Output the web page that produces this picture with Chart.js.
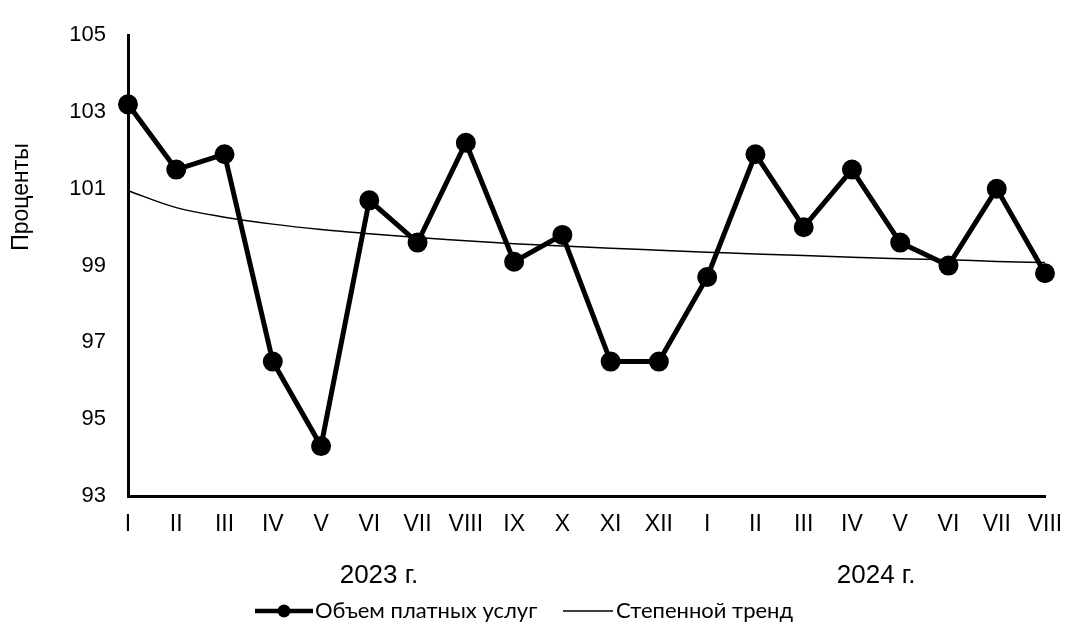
<!DOCTYPE html>
<html>
<head>
<meta charset="utf-8">
<script src="https://cdn.jsdelivr.net/npm/chart.js@4"></script>
<style>
  html, body { margin: 0; padding: 0; background: #fff; }
  #wrap { width: 1065px; height: 634px; }
</style>
</head>
<body>
<div id="wrap"><canvas id="chart"></canvas></div>
<script>
// DATA
let months = ["I", "II", "III", "IV", "V", "VI", "VII", "VIII", "IX", "X", "XI", "XII",
    "I", "II", "III", "IV", "V", "VI", "VII", "VIII"];
let years = ["2023 г.", "2024 г."];
let paidServices = [103.2, 101.5, 101.9, 96.5, 94.3, 100.7, 99.6, 102.2, 99.1, 99.8, 96.5, 96.5,
    98.7, 101.9, 100.0, 101.5, 99.6, 99.0, 101.0, 98.8];
let powerTrend = [100.95, 100.51, 100.26, 100.08, 99.94, 99.83, 99.73, 99.65, 99.57, 99.51,
    99.45, 99.40, 99.35, 99.30, 99.26, 99.22, 99.18, 99.15, 99.11, 99.08];
let seriesNames = ["Объем платных услуг", "Степенной тренд"];
let yTitle = "Проценты";
let yTicks = [93, 95, 97, 99, 101, 103, 105];

const family = "'Liberation Sans', Arial, sans-serif";

// axis title, year captions under the month labels + legend at the bottom
const extras = {
    id: "extras",
    afterDraw(chart) {
        const ctx = chart.ctx;
        const x = chart.scales.x;
        ctx.save();
        ctx.fillStyle = "#000";

        ctx.save();
        ctx.translate(28, 197);
        ctx.rotate(-Math.PI / 2);
        ctx.font = "23px " + family;
        ctx.textAlign = "center";
        ctx.textBaseline = "alphabetic";
        ctx.fillText(yTitle, 0, 0);
        ctx.restore();

        ctx.font = "26px " + family;
        ctx.textAlign = "center";
        ctx.textBaseline = "middle";
        ctx.fillText(years[0], x.getPixelForValue(5.2), 576);
        ctx.fillText(years[1], x.getPixelForValue(15.5), 576);

        // legend
        const ly = 611;
        ctx.font = "22px Lato, 'Noto Sans', sans-serif";
        ctx.textAlign = "left";
        ctx.strokeStyle = "#000";
        ctx.lineWidth = 4.5;
        ctx.beginPath();
        ctx.moveTo(255, ly);
        ctx.lineTo(313, ly);
        ctx.stroke();
        ctx.beginPath();
        ctx.arc(284, ly, 6.5, 0, Math.PI * 2);
        ctx.fill();
        ctx.fillText(seriesNames[0], 315, ly);
        ctx.lineWidth = 1.5;
        ctx.beginPath();
        ctx.moveTo(563, ly);
        ctx.lineTo(613, ly);
        ctx.stroke();
        ctx.fillText(seriesNames[1], 616, ly);
        ctx.restore();
    }
};

new Chart("chart", {
    type: "line",
    data: {
        labels: months,
        datasets: [
            {
                label: seriesNames[0],
                data: paidServices,
                borderColor: "#000",
                backgroundColor: "#000",
                borderWidth: 5,
                pointRadius: 7.5,
                pointHoverRadius: 7.5,
                tension: 0,
            },
            {
                label: seriesNames[1],
                data: powerTrend,
                borderColor: "#000",
                borderWidth: 1.5,
                pointRadius: 0,
                cubicInterpolationMode: "monotone",
            },
        ]
    },
    options: {
        responsive: true,
        maintainAspectRatio: false,
        animation: false,
        layout: { padding: { top: 27, right: 20, left: 10, bottom: 0 } },
        plugins: {
            legend: { display: false },
            tooltip: { enabled: false },
        },
        scales: {
            x: {
                offset: false,
                grid: { display: false, drawTicks: false },
                border: { color: "#000", width: 3 },
                ticks: { color: "#000", font: { family: family, size: 23 }, padding: 15, maxRotation: 0, autoSkip: false },
                afterFit(scale) {
                    scale.height = 138;
                    scale.paddingLeft = 0;
                    scale.paddingRight = 0;
                },
            },
            y: {
                min: yTicks[0],
                max: yTicks[yTicks.length - 1],
                afterBuildTicks(scale) { scale.ticks = yTicks.map(v => ({ value: v })); },
                grid: { display: false, drawTicks: false },
                border: { color: "#000", width: 3 },
                ticks: { color: "#000", font: { family: family, size: 22 }, padding: 22 },
                afterFit(scale) { scale.width = 118; },
            },
        },
    },
    plugins: [extras],
});
</script>
</body>
</html>
